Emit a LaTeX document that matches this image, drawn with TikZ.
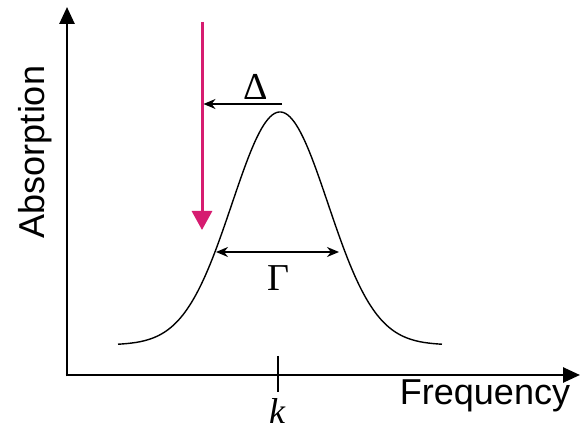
\documentclass[tikz,border=0pt]{standalone}
\usepackage{fontspec}
\setmainfont{Liberation Serif}
\newfontfamily\labsans{Liberation Sans}
\usetikzlibrary{arrows.meta}
\definecolor{pinkarrow}{RGB}{214,28,112}
\tikzset{
  axis/.style={line width=2.6pt,-{Triangle[length=17pt,width=15pt]}},
  curve/.style={line width=1.4pt},
  dimarrow/.style={line width=1.6pt},
  axlabel/.style={font=\labsans\fontsize{36}{40}\selectfont, inner sep=0pt},
  symlabel/.style={font=\fontsize{38}{42}\selectfont, inner sep=0pt}
}
\begin{document}
\begin{tikzpicture}[x=1pt,y=-1pt]
\useasboundingbox (0,0) rectangle (582,430);
\fill[white] (0,0) rectangle (582,430);
\coordinate (O) at (67,375);
\coordinate (ytop) at (67,7);
\coordinate (xend) at (580,375);
\draw[axis] (67,376.3) -- (ytop);
\draw[axis] (65.7,375) -- (xend);
% tick
\coordinate (tickt) at (278,356);
\coordinate (tickb) at (278,392);
\draw[line width=1.2pt] (tickt) -- (tickb);
\node[symlabel, font=\fontsize{36}{40}\selectfont\itshape] (k) at (277,411) {k};
\node[axlabel] (freq) at (485,396) {Frequency};
\node[axlabel, rotate=90] (abs) at (35,152) {Absorption};
% gaussian
\draw[curve] plot[domain=118:442, samples=150, smooth] (\x, {345-233*exp(-0.5*((\x-280)/48)^2)});
% pink arrow
\coordinate (ptop) at (202,22);
\coordinate (ptip) at (202,230);
\draw[pinkarrow, line width=3pt, -{Triangle[length=19pt,width=20pt]}] (ptop) -- (ptip);
% delta arrow
\coordinate (dstart) at (282,104);
\coordinate (dend) at (203.5,104);
\draw[dimarrow, -{Stealth[length=12pt,width=10pt]}] (dstart) -- (dend);
\node[symlabel] (delta) at (256,87) {Δ};
% gamma arrow
\coordinate (gl) at (216,252);
\coordinate (gr) at (339,252);
\draw[dimarrow, {Stealth[length=12pt,width=10pt]}-{Stealth[length=12pt,width=10pt]}] (gl) -- (gr);
\node[symlabel] (gamma) at (278,278) {Γ};
\end{tikzpicture}
\end{document}
